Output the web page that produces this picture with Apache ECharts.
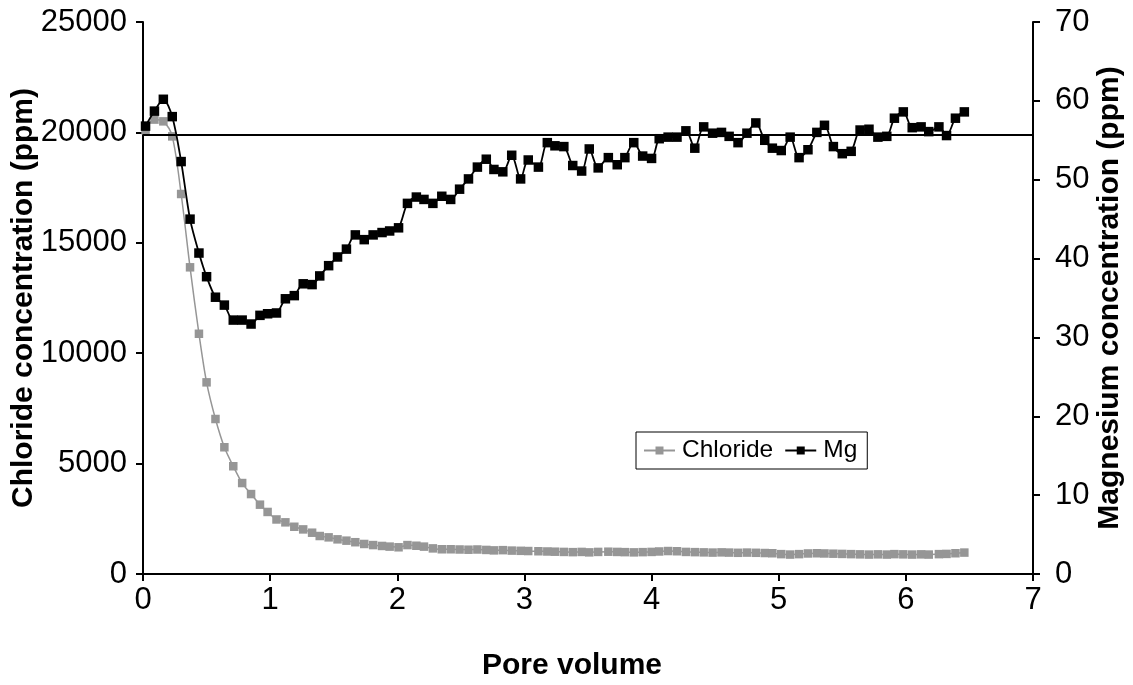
<!DOCTYPE html>
<html>
<head>
<meta charset="utf-8">
<script src="https://cdn.jsdelivr.net/npm/echarts@6/dist/echarts.min.js"></script>
<style>html,body{margin:0;padding:0;background:#fff;}#chart{width:1133px;height:685px;}</style>
</head>
<body>
<div id="chart"></div>
<script>
const poreVolume = [0.02,0.09,0.16,0.23,0.30,0.37,0.44,0.50,0.57,0.64,
  0.71,0.78,0.85,0.92,0.98,1.05,1.12,1.19,1.26,1.33,
  1.39,1.46,1.53,1.60,1.67,1.74,1.81,1.88,1.94,2.01,
  2.08,2.15,2.21,2.28,2.35,2.42,2.49,2.56,2.63,2.70,
  2.76,2.83,2.90,2.97,3.03,3.11,3.18,3.24,3.31,3.38,
  3.45,3.51,3.58,3.66,3.73,3.79,3.86,3.93,4.00,4.06,
  4.13,4.20,4.27,4.34,4.41,4.48,4.55,4.61,4.68,4.75,
  4.82,4.89,4.95,5.02,5.09,5.16,5.23,5.30,5.36,5.43,
  5.50,5.57,5.64,5.71,5.78,5.85,5.91,5.98,6.05,6.12,
  6.18,6.26,6.32,6.39,6.46];
const chloride = [20100,20580,20500,19820,17210,13890,10880,8680,7020,5740,
  4880,4120,3620,3140,2810,2470,2340,2140,2020,1870,
  1720,1660,1570,1510,1440,1360,1310,1270,1240,1210,
  1310,1280,1240,1160,1120,1120,1110,1100,1110,1090,
  1070,1080,1060,1050,1040,1030,1020,1010,1000,990,
  1000,980,1000,1010,1000,990,980,990,1000,1020,
  1040,1030,1000,990,980,970,980,970,960,970,
  960,950,940,900,880,900,930,940,930,920,
  910,900,890,880,890,880,900,890,880,890,
  880,900,910,940,970];
const mg = [56.8,58.7,60.2,58.0,52.3,45.0,40.7,37.7,35.1,34.1,
  32.2,32.2,31.7,32.8,33.0,33.1,34.9,35.3,36.8,36.7,
  37.8,39.1,40.2,41.2,43.0,42.4,43.0,43.3,43.5,43.9,
  47.0,47.8,47.5,47.0,47.9,47.5,48.8,50.1,51.6,52.6,
  51.3,51.0,53.1,50.1,52.5,51.6,54.7,54.3,54.2,51.8,
  51.1,53.9,51.5,52.8,51.9,52.8,54.7,53.0,52.7,55.2,
  55.4,55.4,56.2,54.0,56.7,55.9,56.0,55.5,54.7,55.9,
  57.2,55.0,54.0,53.7,55.4,52.8,53.8,56.0,56.9,54.2,
  53.3,53.6,56.3,56.4,55.4,55.5,57.8,58.6,56.6,56.7,
  56.1,56.7,55.6,57.8,58.6];
const mgReference = 55.7;
const seriesNames = ['Chloride', 'Mg'];
const xTitle = 'Pore volume';
const yLeftTitle = 'Chloride concentration (ppm)';
const yRightTitle = 'Magnesium concentration (ppm)';

const FONT = '"Liberation Sans", Arial, sans-serif';
const chart = echarts.init(document.getElementById('chart'), null, {renderer: 'canvas'});
const axisLineStyle = {lineStyle: {color: '#000', width: 2}};
const tickStyle = {show: true, inside: false, length: 7, lineStyle: {color: '#000', width: 2}};
const labelStyle = {color: '#000', fontFamily: FONT, fontSize: 31};
const nameStyle = {color: '#000', fontFamily: FONT, fontSize: 30, fontWeight: 'bold'};
const plain = v => String(v);

chart.setOption({
  animation: false,
  backgroundColor: '#fff',
  grid: {left: 143, right: 100, top: 22, bottom: 111, containLabel: false, outerBoundsMode: 'none'},
  legend: {
    left: 636, top: 432,
    orient: 'horizontal',
    data: seriesNames,
    borderColor: '#000', borderWidth: 1,
    padding: [6, 10, 6, 7],
    itemGap: 11, itemWidth: 31, itemHeight: 10,
    textStyle: {color: '#000', fontFamily: FONT, fontSize: 24.5, padding: [0, 0, 0, 2]}
  },
  xAxis: {
    type: 'value', min: 0, max: 7, interval: 1,
    name: xTitle, nameLocation: 'middle', nameGap: 77, nameMoveOverlap: false,
    nameTextStyle: Object.assign({padding: [0, 32, 0, 0]}, nameStyle),
    axisLine: axisLineStyle, axisTick: tickStyle,
    axisLabel: Object.assign({margin: 11, formatter: plain}, labelStyle),
    splitLine: {show: false}
  },
  yAxis: [
    {
      type: 'value', min: 0, max: 25000, interval: 5000, position: 'left',
      name: yLeftTitle, nameLocation: 'middle', nameGap: 104, nameRotate: 90, nameMoveOverlap: false,
      nameTextStyle: nameStyle,
      axisLine: Object.assign({show: true}, axisLineStyle), axisTick: tickStyle,
      axisLabel: Object.assign({margin: 16, formatter: plain}, labelStyle),
      splitLine: {show: false}
    },
    {
      type: 'value', min: 0, max: 70, interval: 10, position: 'right',
      name: yRightTitle, nameLocation: 'middle', nameGap: 62, nameRotate: 90, nameMoveOverlap: false,
      nameTextStyle: nameStyle,
      axisLine: Object.assign({show: true}, axisLineStyle), axisTick: tickStyle,
      axisLabel: Object.assign({margin: 22, formatter: plain}, labelStyle),
      splitLine: {show: false}
    }
  ],
  series: [
    {
      name: seriesNames[0], type: 'line', yAxisIndex: 0,
      data: poreVolume.map((x, i) => [x, chloride[i]]),
      smooth: 0.3, symbol: 'rect', symbolSize: 8.5,
      itemStyle: {color: '#969696'},
      lineStyle: {color: '#969696', width: 1.5},
      z: 2
    },
    {
      name: seriesNames[1], type: 'line', yAxisIndex: 1,
      data: poreVolume.map((x, i) => [x, mg[i]]),
      smooth: 0.3, symbol: 'rect', symbolSize: 9.5,
      itemStyle: {color: '#000'},
      lineStyle: {color: '#000', width: 1.8},
      markLine: {
        silent: true, symbol: 'none', label: {show: false},
        lineStyle: {color: '#000', width: 2, type: 'solid'},
        data: [{yAxis: mgReference}]
      },
      z: 3
    }
  ]
});
</script>
</body>
</html>
